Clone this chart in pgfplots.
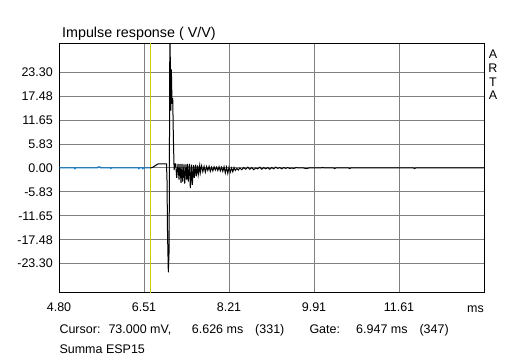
\documentclass[border=0pt]{standalone}
\usepackage{fontspec}
\setmainfont{Liberation Sans}
\usepackage{pgfplots}
\pgfplotsset{compat=1.18}
\definecolor{gridgray}{RGB}{128,128,128}
\definecolor{cursoryellow}{RGB}{204,204,0}
\definecolor{preblue}{RGB}{0,122,204}
\begin{document}
\fontsize{12.5bp}{15bp}\selectfont
\begin{tikzpicture}[x=1bp,y=1bp]
\useasboundingbox (0,0) rectangle (512,360);
\fill[white] (0,0) rectangle (512,360);
\begin{axis}[at={(59bp,68bp)}, anchor=south west, scale only axis,
  width=425bp, height=248bp,
  xmin=4.80, xmax=13.31, ymin=-30.2, ymax=30.2,
  xtick={4.80,6.502,8.204,9.906,11.608},
  xticklabels={4.80,6.51,8.21,9.91,11.61},
  ytick={-23.30,-17.48,-11.65,-5.83,0,5.83,11.65,17.48,23.30},
  yticklabels={-23.30,-17.48,-11.65,-5.83,0.00,5.83,11.65,17.48,23.30},
  major tick length=0pt,
  grid=major, major grid style={gridgray, line width=1bp},
  axis line style={black, line width=1bp},
  xticklabel style={anchor=north, inner sep=0pt, yshift=-11bp},
  yticklabel style={anchor=east, inner sep=0pt, xshift=-6bp},
  clip=true]
\addplot[cursoryellow, line width=1bp] coordinates {(6.626,-31) (6.626,31)};
\addplot[preblue, line width=1bp] table {
4.80 0
5.11 0
5.12 -0.2
5.13 0
5.57 0
5.58 0.25
5.62 0.25
5.63 0
5.83 0
5.84 -0.15
5.85 0
6.39 0
6.40 -0.2
6.41 0
6.47 0
6.48 -0.2
6.49 0
6.626 0
};
\addplot[black, line width=1bp] table {
6.626 0
6.636 0
6.682 0.2
6.756 0.8
6.788 1.0
6.953 1.0
6.963 -3.2
6.973 -15.9
6.989 -25.4
7.005 -20
7.020 35
7.040 14
7.050 24
7.063 15.6
7.077 17
7.090 7.5
7.105 -0.5
7.120 1.0
7.137 1.0
7.157 -2.4
7.183 1.0
7.203 -2.8
7.223 1.0
7.243 -3.6
7.263 1.0
7.277 -3.3
7.303 0.9
7.317 -3.8
7.343 0.9
7.357 -2.8
7.377 1.0
7.389 -3.3
7.417 1.0
7.429 -4.9
7.457 0.8
7.469 -4.1
7.497 0.7
7.509 -2.4
7.537 0.8
7.549 -2.0
7.577 0.6
7.589 -1.6
7.617 0.6
7.629 -1.2
7.655 0.5
7.680 -0.9
7.705 0.4
7.730 -1.0
7.755 0.3
7.780 -0.6
7.805 0.4
7.830 -0.8
7.855 0.2
7.880 -0.7
7.905 0.3
7.930 -0.5
7.955 0.2
7.980 -0.6
8.005 0.3
8.030 -0.7
8.055 0.2
8.080 -0.8
8.105 0.3
8.130 -1.2
8.155 0.2
8.180 -1.3
8.205 0.2
8.230 -1.0
8.255 0.0
8.280 -0.9
8.305 0.1
8.330 -0.6
8.360 -0.1
8.390 -0.5
8.420 0.0
8.46 -0.4
8.50 0.1
8.54 -0.3
8.58 0.2
8.62 -0.3
8.66 0.1
8.70 -0.4
8.74 0.0
8.78 -0.2
8.82 0.2
8.86 -0.3
8.90 0.1
8.94 -0.2
8.98 0.1
9.02 -0.3
9.06 0.1
9.10 -0.2
9.14 0.2
9.18 -0.1
9.22 0.1
9.26 -0.2
9.30 0.1
9.34 -0.1
9.38 0.1
9.42 -0.1
9.46 0.0
9.50 -0.1
9.55 0.1
9.60 0.0
9.70 0.0
9.75 -0.15
9.80 0.0
10.05 0.0
10.08 0.15
10.11 0.0
10.30 0.0
10.32 -0.15
10.34 0.0
10.60 0.0
10.62 -0.15
10.64 0.0
11.90 0.0
11.92 -0.15
11.94 0.0
13.31 0.0
};
\end{axis}
\node[anchor=base west, inner sep=0pt, font=\fontsize{14.3bp}{16bp}\selectfont] at (62,322.7) {Impulse response ( V/V)};
\node[anchor=base east, inner sep=0pt] at (484,48) {ms};
\begin{scope}[every node/.style={anchor=base, inner sep=0pt, font=\fontsize{12.5bp}{14bp}\selectfont}]
\node at (493,301.7) {A};
\node at (493,287.3) {R};
\node at (493,274) {T};
\node at (493,260.7) {A};
\end{scope}
\begin{scope}[every node/.style={anchor=base west, inner sep=0pt}]
\node at (59.3,27) {Cursor:};
\node at (108.3,27) {73.000 mV,};
\node at (191.7,27) {6.626 ms};
\node at (255,27) {(331)};
\node at (309.3,27) {Gate:};
\node at (356,27) {6.947 ms};
\node at (419.3,27) {(347)};
\node at (59.3,7) {Summa ESP15};
\end{scope}
\end{tikzpicture}
\end{document}
